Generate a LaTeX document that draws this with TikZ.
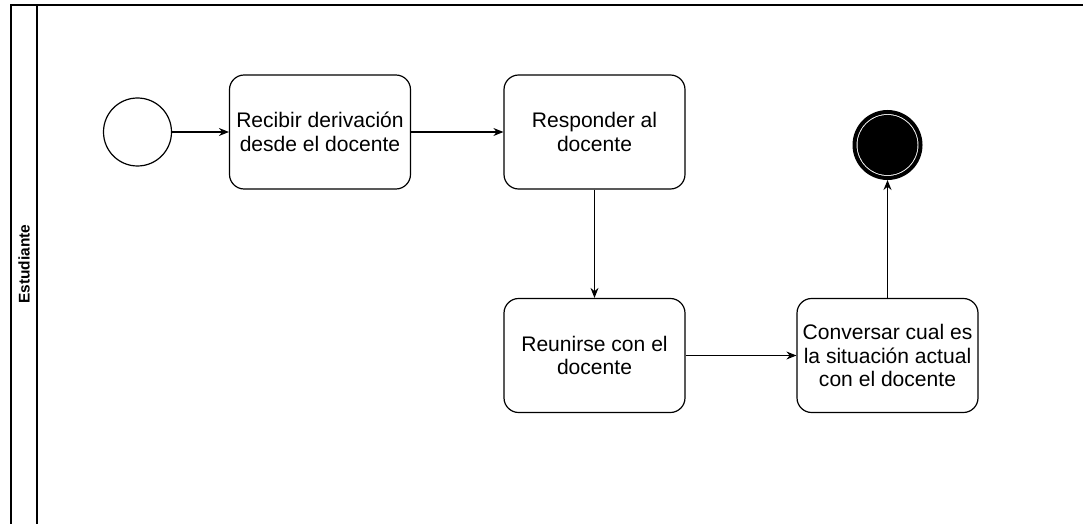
\documentclass[tikz,border=0pt]{standalone}
\usepackage{fontspec}
\setmainfont{Liberation Sans}
\usepackage{tikz}
\usetikzlibrary{shapes,arrows,positioning,calc,arrows.meta}

\begin{document}
\begin{tikzpicture}[x=0.75pt,y=-0.75pt,
    tarea/.style={draw,line width=0.9pt,rounded corners=11pt,minimum width=135.75pt,minimum height=85.5pt,align=center,font=\fontsize{15.8}{17.6}\selectfont},
    evento/.style={draw,circle,line width=0.9pt,minimum size=51pt,inner sep=0pt},
    flujo/.style={line width=0.9pt,-{Stealth[length=7.5pt,width=6pt]}}]
    \useasboundingbox (0,0) rectangle (1084,524);

    % Lane
    \draw[line width=0.9pt] (11,524) -- (11,5) -- (1083,5);
    \draw[line width=0.9pt] (37,5) -- (37,524);
    \node[rotate=90,font=\fontsize{11.6}{13}\selectfont\bfseries] (carril) at (24,264) {Estudiante};

    % Start event
    \node[evento] (inicio) at (137.5,132) {};

    % Tasks
    \node[tarea] (recibir) at (320,132) {Recibir derivación\\desde el docente};
    \node[tarea] (responder) at (594.5,132) {Responder al\\docente};
    \node[tarea] (reunirse) at (594.5,355.5) {Reunirse con el\\docente};
    \node[tarea] (conversar) at (887.5,355.5) {Conversar cual es\\la situación actual\\con el docente};

    % End event
    \node[circle,fill=black,minimum size=45pt,inner sep=0pt] (fin) at (887.5,145) {};
    \draw[line width=3pt] (fin.center) circle (33);

    % Flows
    \draw[flujo] (inicio) -- (recibir);
    \draw[flujo] (recibir) -- (responder);
    \draw[flujo] (responder) -- (reunirse);
    \draw[flujo] (reunirse) -- (conversar);
    \draw[flujo] (conversar) -- ($(fin.center)+(0,35)$);
\end{tikzpicture}
\end{document}
